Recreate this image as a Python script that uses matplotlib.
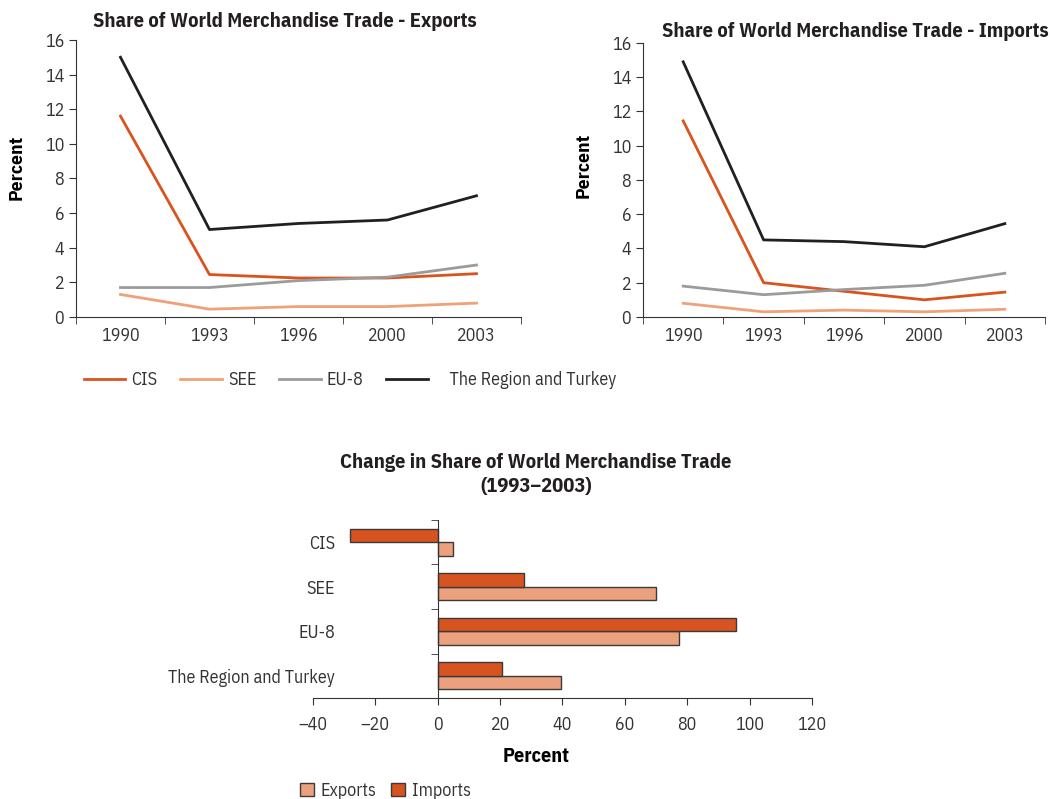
import matplotlib
matplotlib.use("Agg")
import matplotlib.pyplot as plt
import numpy as np
from matplotlib.lines import Line2D
from matplotlib.patches import Patch

plt.rcParams['font.family'] = ['IBM Plex Sans Condensed', 'DejaVu Sans']

anos = ['1990', '1993', '1996', '2000', '2003']
series = ['CIS', 'SEE', 'EU-8', 'The Region and Turkey']

exp_cis = [11.6, 2.45, 2.25, 2.25, 2.5]
exp_see = [1.3, 0.45, 0.6, 0.6, 0.8]
exp_eu8 = [1.7, 1.7, 2.1, 2.3, 3.0]
exp_reg = [15.0, 5.05, 5.4, 5.6, 7.0]

imp_cis = [11.45, 2.0, 1.5, 1.0, 1.45]
imp_see = [0.8, 0.3, 0.4, 0.3, 0.45]
imp_eu8 = [1.8, 1.3, 1.6, 1.85, 2.55]
imp_reg = [14.9, 4.5, 4.4, 4.1, 5.45]

grupos = ['CIS', 'SEE', 'EU-8', 'The Region and Turkey']
var_exports = [5, 70, 77.5, 39.5]
var_imports = [-28, 27.5, 95.5, 20.5]

cores = ['#d9531e', '#f0a17a', '#9b9b9b', '#231f20']
cor_texto = '#333333'
eixo = '#333333'

fig = plt.figure(figsize=(10.51, 7.99), dpi=100)


def grafico_linhas(ax, dados, titulo):
    x = np.arange(len(anos))
    for vals, cor in zip(dados, cores):
        ax.plot(x, vals, color=cor, linewidth=2.0)
    ax.set_xlim(-0.5, len(anos) - 0.5)
    ax.set_ylim(0, 16)
    ax.set_yticks(range(0, 17, 2))
    ax.set_xticks(x)
    ax.set_xticklabels(anos)
    ax.set_xticks(np.arange(-0.5, len(anos), 1), minor=True)
    ax.tick_params(axis='x', which='major', length=0, pad=7, labelsize=13, labelcolor=cor_texto)
    ax.tick_params(axis='x', which='minor', length=5, color=eixo)
    ax.tick_params(axis='y', length=5, labelsize=13, labelcolor=cor_texto, color=eixo)
    for s in ['top', 'right']:
        ax.spines[s].set_visible(False)
    for s in ['left', 'bottom']:
        ax.spines[s].set_color(eixo)
    ax.set_ylabel('Percent', fontsize=14, fontweight='bold')
    ax.set_title(titulo, fontsize=14.8, fontweight='bold', color='#231f20')


ax1 = fig.add_axes([0.0723, 0.6033, 0.4234, 0.3467])
grafico_linhas(ax1, [exp_cis, exp_see, exp_eu8, exp_reg], 'Share of World Merchandise Trade - Exports')
ax1.set_title(ax1.get_title(), fontsize=14.8, fontweight='bold', color='#231f20', x=0.47, pad=9)
ax1.yaxis.set_label_coords(-0.113, 0.54)

ax2 = fig.add_axes([0.6118, 0.6033, 0.3825, 0.3429])
grafico_linhas(ax2, [imp_cis, imp_see, imp_eu8, imp_reg], 'Share of World Merchandise Trade - Imports')
ax2.set_title(ax2.get_title(), fontsize=14.8, fontweight='bold', color='#231f20', x=0.527, pad=4)
ax2.yaxis.set_label_coords(-0.125, 0.555)

handles = [Line2D([0], [0], color=c, linewidth=2.0) for c in cores]
labels = ['CIS', 'SEE', 'EU-8', '    The Region and Turkey']
fig.legend(handles, labels, loc='center left', bbox_to_anchor=(0.064, 1 - 380 / 799),
           ncol=4, frameon=False, fontsize=13, handlelength=2.3, handletextpad=0.35,
           columnspacing=1.25, labelcolor=cor_texto)

# barras
ax3 = fig.add_axes([0.2978, 0.1264, 0.4748, 0.2228])
y = np.arange(len(grupos))[::-1]
h = 0.3
ax3.barh(y - h / 2, var_exports, height=h, color='#eba07e', edgecolor='#3a3a3a', linewidth=1.0)
ax3.barh(y + h / 2, var_imports, height=h, color='#d7531f', edgecolor='#3a3a3a', linewidth=1.0)
ax3.set_xlim(-40, 120)
ax3.set_ylim(-0.5, len(grupos) - 0.5)
ax3.set_xticks(range(-40, 121, 20))
ax3.set_xticklabels([('\u2013' + str(-v)) if v < 0 else str(v) for v in range(-40, 121, 20)])
ax3.set_yticks(y)
ax3.set_yticklabels(grupos)
ax3.set_yticks(np.arange(-0.5, len(grupos), 1), minor=True)
ax3.tick_params(axis='y', which='major', length=0, pad=74, labelsize=13, labelcolor=cor_texto)
ax3.tick_params(axis='y', which='minor', length=5, color=eixo)
ax3.tick_params(axis='x', length=5, labelsize=13, labelcolor=cor_texto, color=eixo, pad=8)
ax3.spines['left'].set_position(('data', 0))
ax3.spines['left'].set_color(eixo)
ax3.spines['bottom'].set_color(eixo)
for s in ['top', 'right']:
    ax3.spines[s].set_visible(False)
ax3.set_xlabel('Percent', fontsize=14.5, fontweight='bold')
ax3.xaxis.set_label_coords(0.447, -0.275)
ax3.set_title('Change in Share of World Merchandise Trade\n(1993\u20132003)', fontsize=14.8,
              fontweight='bold', color='#231f20', pad=20, x=0.447, linespacing=1.35)

fig.legend([Patch(facecolor='#eba07e', edgecolor='#3a3a3a'), Patch(facecolor='#d7531f', edgecolor='#3a3a3a')],
           ['Exports', 'Imports'], loc='center left', bbox_to_anchor=(0.270, 1 - 791 / 799),
           ncol=2, frameon=False, fontsize=13, handlelength=0.75, handleheight=0.75,
           handletextpad=0.4, columnspacing=0.8, labelcolor=cor_texto)

fig.savefig('out.png', dpi=100)
